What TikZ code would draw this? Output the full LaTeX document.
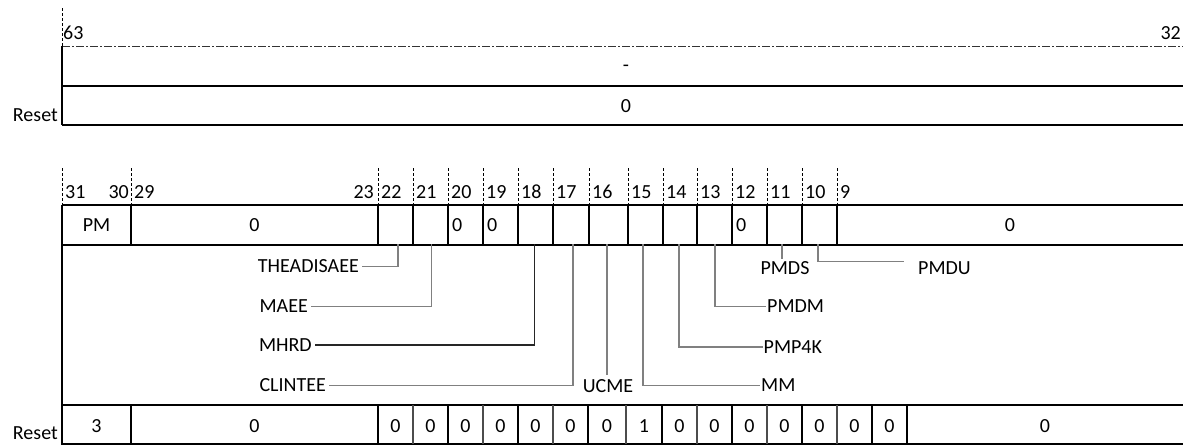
\documentclass[tikz,border=0pt]{standalone}
\usepackage{fontspec}
\setmainfont{Carlito}
\begin{document}
\begin{tikzpicture}[x=1pt,y=-1pt,
  every node/.style={font=\fontsize{20}{22}\selectfont, inner sep=2pt},
  frame/.style={line width=1.8pt, black},
  sep/.style={line width=1.6pt, black},
  tick/.style={line width=0.6pt, black, dash pattern=on 3pt off 2pt},
  dashdot/.style={line width=0.8pt, black!80, dash pattern=on 8pt off 2pt on 2pt off 2pt},
  conn/.style={line width=1.3pt, black!50},
  connd/.style={line width=1.2pt, black!85},
  cell/.style={minimum height=38pt, draw=none},
  lbl/.style={}]
\useasboundingbox (0,0) rectangle (1185,445);

% ---------- upper register (63..32) ----------
\draw[tick] (62,8) -- (62,46);
\draw[dashdot] (62,46) -- (1183,46);
\draw[frame] (62,46) -- (62,125);
\draw[frame] (62,86) -- (1183,86);
\draw[frame] (62,125) -- (1183,125);
\node[anchor=west] (b63) at (61,33) {63};
\node[anchor=east] (b32) at (1183,33) {32};
\node (hifield) at (626,68) {-};
\node (hireset) at (626,106) {0};
\node[anchor=east] (rst1) at (60,115) {Reset};

% ---------- lower register (31..0) ----------
\foreach \x in {62,131,378,413,448,483,518,553,589,628,663,697,732,767,802,837}
  \draw[tick] (\x,168) -- (\x,205);
\draw[frame] (62,205) -- (1183,205);
\draw[frame] (62,245) -- (1183,245);
\draw[frame] (62,205) -- (62,445);
\foreach \x in {131,378,413,448,483,518,553,589,628,663,697,732,767,802,837}
  \draw[sep] (\x,205) -- (\x,245);

% bit numbers
\node[anchor=west] (n31) at (63,192) {31};
\node[anchor=east] (n30) at (131,192) {30};
\node[anchor=west] (n29) at (132,192) {29};
\node[anchor=east] (n23) at (376,192) {23};
\foreach \x/\n in {378/22,413/21,448/20,483/19,518/18,553/17,589/16,628/15,663/14,697/13,732/12,767/11,802/10,837/9}
  \node[anchor=west] (n\n) at (\x+1,192) {\n};

% field cells
\node[cell, minimum width=69pt] (fpm) at (96.5,225) {PM};
\node[cell, minimum width=247pt] (f2923) at (254.5,225) {0};
\node[cell, minimum width=35pt] (f22) at (395.5,225) {};
\node[cell, minimum width=35pt] (f21) at (430.5,225) {};
\node[cell, minimum width=35pt] (f20) at (465.5,225) {};
\node[anchor=west] (v20) at (450,225) {0};
\node[cell, minimum width=35pt] (f19) at (500.5,225) {};
\node[anchor=west] (v19) at (485,225) {0};
\node[cell, minimum width=35pt] (f18) at (535.5,225) {};
\node[cell, minimum width=36pt] (f17) at (571,225) {};
\node[cell, minimum width=39pt] (f16) at (608.5,225) {};
\node[cell, minimum width=35pt] (f15) at (645.5,225) {};
\node[cell, minimum width=34pt] (f14) at (680,225) {};
\node[cell, minimum width=35pt] (f13) at (714.5,225) {};
\node[cell, minimum width=35pt] (f12) at (749.5,225) {};
\node[anchor=west] (v12) at (734,225) {0};
\node[cell, minimum width=35pt] (f11) at (784.5,225) {};
\node[cell, minimum width=35pt] (f10) at (819.5,225) {};
\node[cell, minimum width=346pt] (f90) at (1010,225) {0};

% field descriptions
\node[anchor=east, inner sep=3pt] (theadisaee) at (362,266.5) {THEADISAEE};
\node[anchor=east, inner sep=3pt] (maee) at (311,306.5) {MAEE};
\node[anchor=east, inner sep=3pt] (mhrd) at (315,345) {MHRD};
\node[anchor=east, inner sep=3pt] (clintee) at (329,385.5) {CLINTEE};
\node[inner sep=4.5pt] (ucme) at (608,386) {UCME};
\node[anchor=west, inner sep=1pt] (mm) at (760,385.5) {MM};
\node[anchor=west, inner sep=1pt] (pmp4k) at (762.5,347) {PMP4K};
\node[anchor=west, inner sep=1pt] (pmdm) at (766,306.5) {PMDM};
\node[inner sep=2pt] (pmds) at (785,268) {PMDS};
\node[anchor=west, inner sep=0pt] (pmdu) at (918,268) {PMDU};
\coordinate (pmduend) at (904,261.5);

\draw[conn] ([xshift=2.5pt]f22.south) |- (theadisaee.east);
\draw[conn] ([xshift=1pt]f21.south) |- (maee.east);
\draw[connd] ([xshift=-1pt]f18.south) |- (mhrd.east);
\draw[conn] ([xshift=2pt]f17.south) |- (clintee.east);
\draw[conn] ([xshift=-1.5pt]f16.south) -- ([xshift=-1.5pt]f16.south |- ucme.north);
\draw[conn] ([xshift=-2.5pt]f15.south) |- (mm.west);
\draw[conn] ([xshift=-1pt]f14.south) |- (pmp4k.west);
\draw[conn] ([xshift=0.5pt]f13.south) |- (pmdm.west);
\draw[conn] ([xshift=-2.5pt]f11.south) -- ([xshift=-2.5pt]f11.south |- pmds.north);
\draw[conn] ([xshift=-1.5pt]f10.south) |- (pmduend);

% reset row
\draw[frame] (62,405) -- (1183,405);
\draw[frame] (62,444) -- (1183,444);
\foreach \x in {131,378,448,518,588,662,732,802,872,907}
  \draw[sep] (\x,405) -- (\x,444);
\foreach \x in {413,483,553,626,697,767,837}
  \draw[line width=1.2pt, black!70] (\x,405) -- (\x,444);
\node[anchor=east] (rst2) at (60,433) {Reset};
\node (r3130) at (96.5,426) {3};
\node (r2923) at (254.5,426) {0};
\foreach \a/\b/\n in {378/413/a,413/448/b,448/483/c,483/518/d,518/553/e,553/588/f,588/626/g,662/697/i,697/732/j,732/767/k,767/802/l,802/837/m,837/872/n,872/907/o}
  \node (r\n) at ({(\a+\b)/2},426) {0};
\node (rh) at (644,426) {1};
\node (rlast) at (1045,426) {0};
\end{tikzpicture}
\end{document}
